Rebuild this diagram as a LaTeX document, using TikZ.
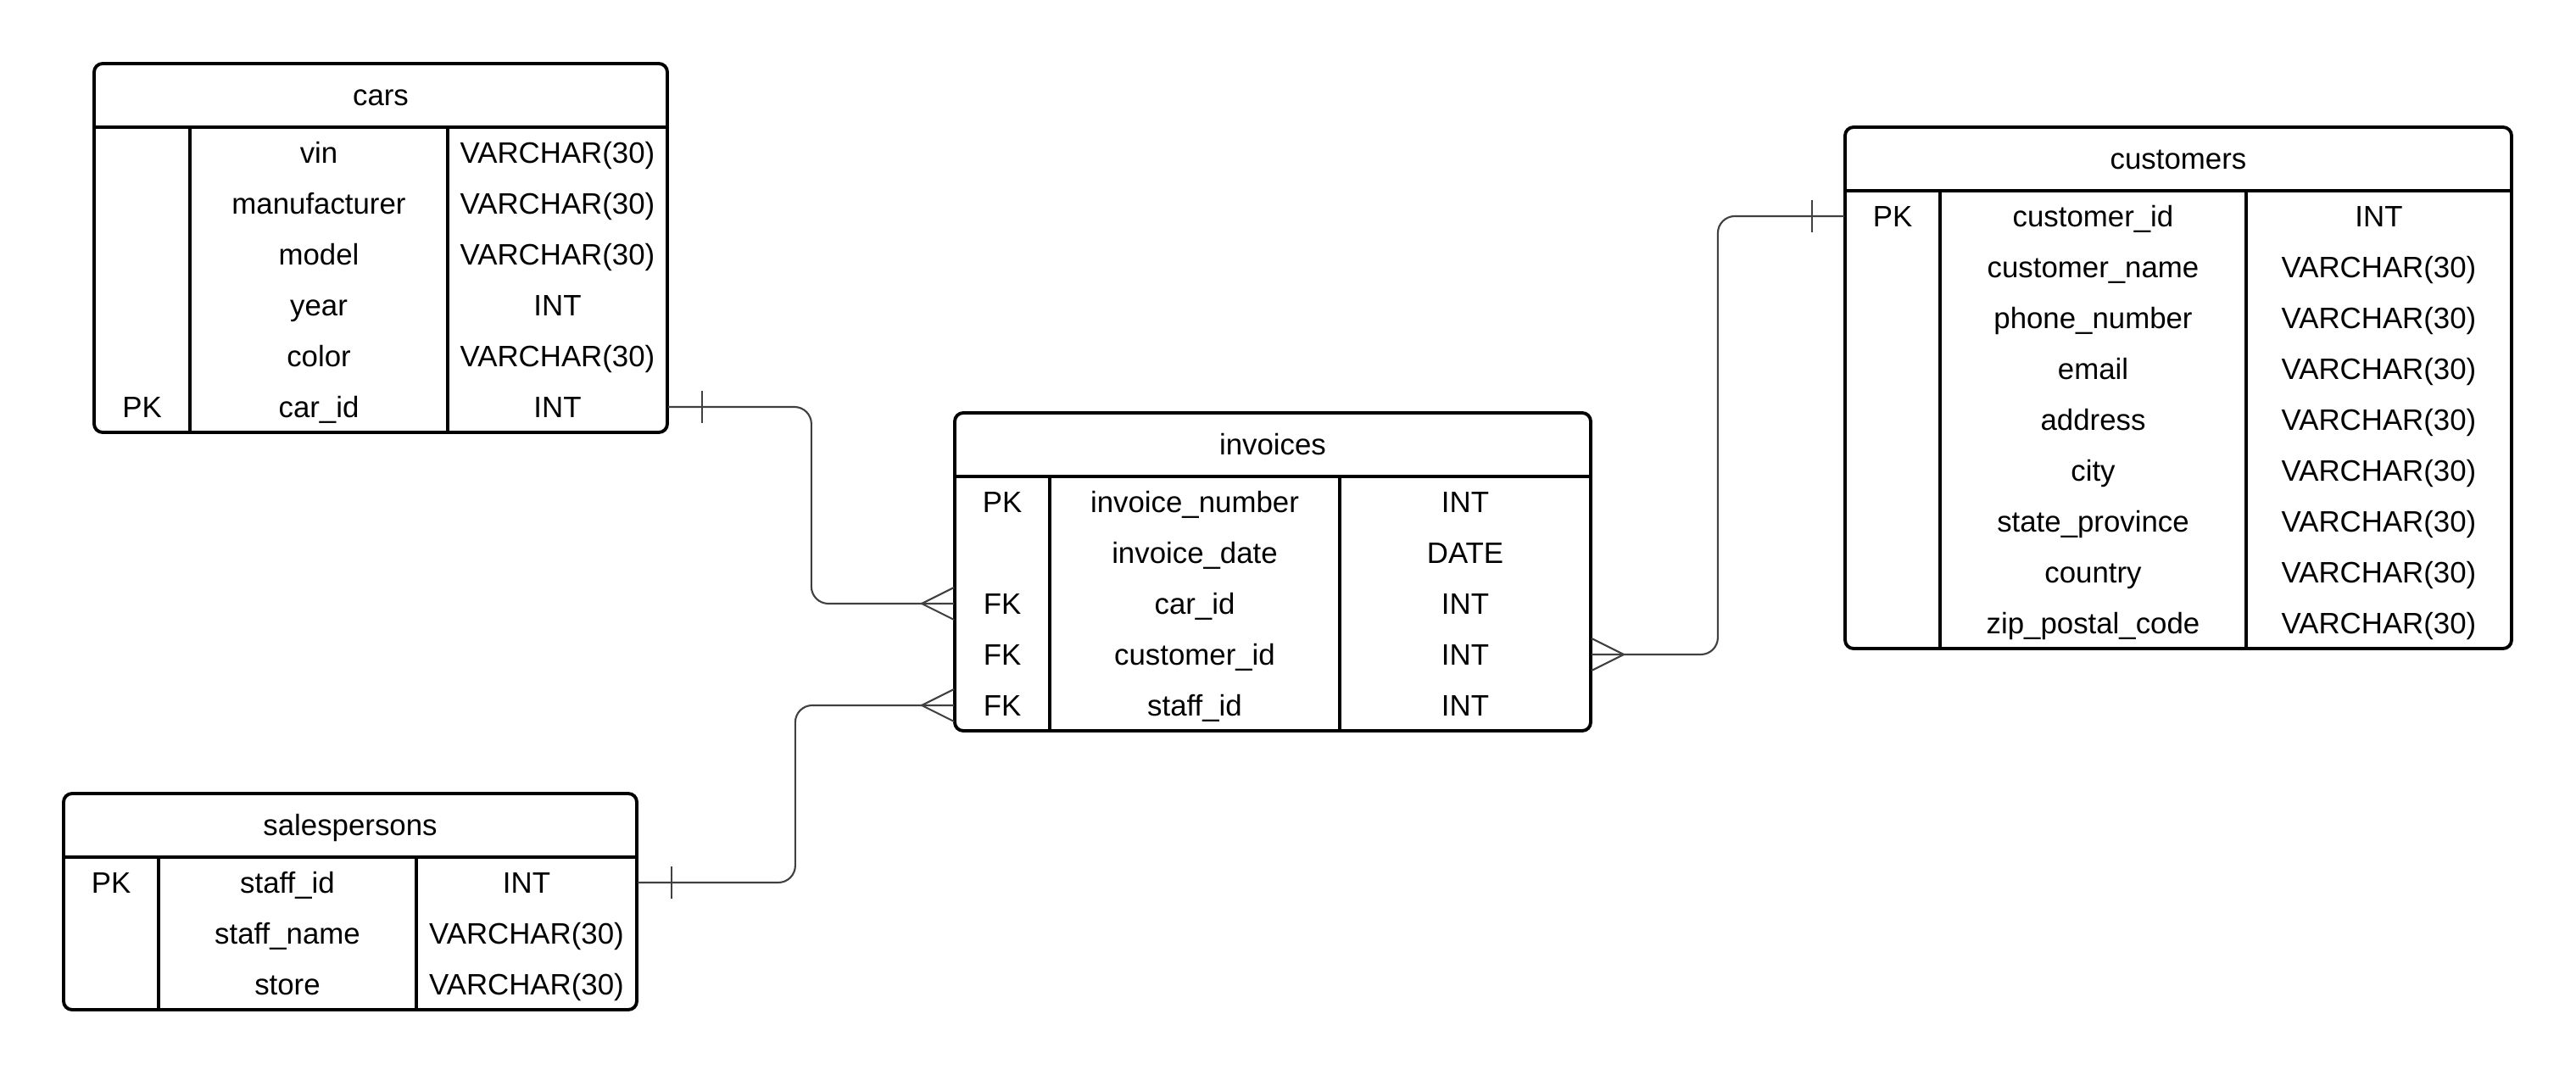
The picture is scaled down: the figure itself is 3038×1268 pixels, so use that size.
\documentclass[tikz,border=0pt]{standalone}
\usepackage{fontspec}
\setmainfont{Liberation Sans}

\tikzset{
    tablebox/.style={draw, line width=1.1pt, rounded corners=0.1cm},
    rule/.style={line width=1pt},
    rowbox/.style={minimum height=0.6cm, inner sep=0pt},
    field/.style={text height=7.1pt, text depth=0pt, inner sep=0pt, font=\fontsize{9.9}{11}\selectfont},
    link/.style={draw=black!75, line width=0.6pt, rounded corners=0.2cm}
}

\begin{document}
\begin{tikzpicture}[x=0.01cm, y=-0.01cm]
    \useasboundingbox (0,0) rectangle (3038,1268);

    \draw[tablebox] (111,75) rectangle (787,510);
    \draw[rule] (111,150) -- (787,150) (224,150) -- (224,510) (528,150) -- (528,510);
    \node[field] (cars-title) at (449,112.5) {cars};
    \foreach \k/\f/\t [count=\i] in {/vin/VARCHAR(30), /manufacturer/VARCHAR(30), /model/VARCHAR(30), /year/INT, /color/VARCHAR(30), PK/car\_id/INT} {
        \node[rowbox, minimum width=6.76cm] (cars-\i) at (449,120+60*\i) {};
        \node[field] (cars-k\i) at (167.5,120+60*\i) {\k};
        \node[field] (cars-f\i) at (376,120+60*\i) {\f};
        \node[field] (cars-t\i) at (657.5,120+60*\i) {\t};
    }

    \draw[tablebox] (75,936) rectangle (751,1191);
    \draw[rule] (75,1011) -- (751,1011) (187,1011) -- (187,1191) (491,1011) -- (491,1191);
    \node[field] (sales-title) at (413,973.5) {salespersons};
    \foreach \k/\f/\t [count=\i] in {PK/staff\_id/INT, /staff\_name/VARCHAR(30), /store/VARCHAR(30)} {
        \node[rowbox, minimum width=6.76cm] (sales-\i) at (413,981+60*\i) {};
        \node[field] (sales-k\i) at (131,981+60*\i) {\k};
        \node[field] (sales-f\i) at (339,981+60*\i) {\f};
        \node[field] (sales-t\i) at (621,981+60*\i) {\t};
    }

    \draw[tablebox] (1126,487) rectangle (1876,862);
    \draw[rule] (1126,562) -- (1876,562) (1238,562) -- (1238,862) (1580,562) -- (1580,862);
    \node[field] (inv-title) at (1501,524.5) {invoices};
    \foreach \k/\f/\t [count=\i] in {PK/invoice\_number/INT, /invoice\_date/DATE, FK/car\_id/INT, FK/customer\_id/INT, FK/staff\_id/INT} {
        \node[rowbox, minimum width=7.5cm] (inv-\i) at (1501,532+60*\i) {};
        \node[field] (inv-k\i) at (1182,532+60*\i) {\k};
        \node[field] (inv-f\i) at (1409,532+60*\i) {\f};
        \node[field] (inv-t\i) at (1728,532+60*\i) {\t};
    }

    \draw[tablebox] (2176,150) rectangle (2962,765);
    \draw[rule] (2176,225) -- (2962,225) (2288,225) -- (2288,765) (2649,225) -- (2649,765);
    \node[field] (cust-title) at (2569,187.5) {customers};
    \foreach \k/\f/\t [count=\i] in {PK/customer\_id/INT, /customer\_name/VARCHAR(30), /phone\_number/VARCHAR(30), /email/VARCHAR(30), /address/VARCHAR(30), /city/VARCHAR(30), /state\_province/VARCHAR(30), /country/VARCHAR(30), /zip\_postal\_code/VARCHAR(30)} {
        \node[rowbox, minimum width=7.86cm] (cust-\i) at (2569,195+60*\i) {};
        \node[field] (cust-k\i) at (2232,195+60*\i) {\k};
        \node[field] (cust-f\i) at (2468.5,195+60*\i) {\f};
        \node[field] (cust-t\i) at (2805.5,195+60*\i) {\t};
    }

    \draw[link] (cars-6.east) -- ++(169,0) |- (inv-3.west);
    \draw[link] (cars-6.east) ++(40,-19) -- ++(0,38);
    \draw[link] (inv-3.west) ++(-38,0) -- ++(38,-19) ++(-38,19) -- ++(38,19);

    \draw[link] (sales-1.east) -- ++(186,0) |- (inv-5.west);
    \draw[link] (sales-1.east) ++(40,-19) -- ++(0,38);
    \draw[link] (inv-5.west) ++(-38,0) -- ++(38,-19) ++(-38,19) -- ++(38,19);

    \draw[link] (inv-4.east) -- ++(149,0) |- (cust-1.west);
    \draw[link] (cust-1.west) ++(-38,-19) -- ++(0,38);
    \draw[link] (inv-4.east) ++(38,0) -- ++(-38,-19) ++(38,19) -- ++(-38,19);
\end{tikzpicture}
\end{document}
